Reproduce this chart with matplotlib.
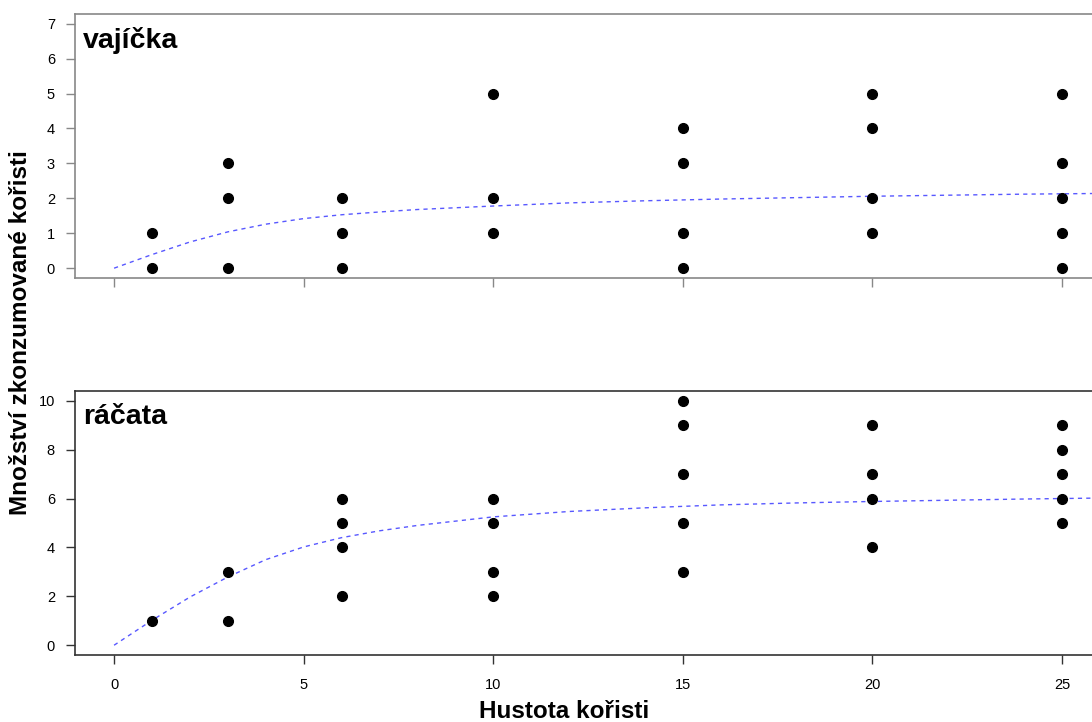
import matplotlib
matplotlib.use("Agg")
import matplotlib.pyplot as plt
import numpy as np

plt.rcParams["font.family"] = ["Liberation Sans", "DejaVu Sans"]

# vajíčka (eggs)
egg_x = [1, 1, 3, 3, 3, 6, 6, 6, 10, 10, 10, 15, 15, 15, 15, 20, 20, 20, 20, 25, 25, 25, 25, 25]
egg_y = [0, 1, 0, 2, 3, 0, 1, 2, 1, 2, 5, 0, 1, 3, 4, 1, 2, 4, 5, 0, 1, 2, 3, 5]

# ráčata (juveniles)
juv_x = [1, 3, 3, 6, 6, 6, 6, 10, 10, 10, 10, 15, 15, 15, 15, 15, 20, 20, 20, 20, 25, 25, 25, 25, 25]
juv_y = [1, 1, 3, 2, 4, 5, 6, 2, 3, 5, 6, 3, 5, 7, 9, 10, 4, 6, 7, 9, 5, 6, 7, 8, 9]

# fitted curves
curve_x = [0, 1, 2, 3, 4, 5, 6, 7, 8, 10, 12, 14, 16, 18, 20, 22, 24, 26]
egg_fit = [0, 0.39, 0.75, 1.04, 1.26, 1.42, 1.53, 1.61, 1.68, 1.78, 1.87, 1.93, 1.98, 2.02, 2.06, 2.09, 2.12, 2.14]
juv_fit = [0, 1.02, 1.97, 2.79, 3.50, 4.02, 4.40, 4.68, 4.90, 5.25, 5.47, 5.62, 5.74, 5.82, 5.88, 5.93, 5.98, 6.02]

xticks = [0, 5, 10, 15, 20, 25]

fig = plt.figure(figsize=(10.92, 7.22), dpi=100)
ax1 = fig.add_axes([0.0687, 0.615, 0.9386, 0.3657])
ax2 = fig.add_axes([0.0687, 0.0928, 0.9386, 0.3657])

panels = [
    (ax1, egg_x, egg_y, egg_fit, (-0.28, 7.28), range(0, 8), "vajíčka", "#888888"),
    (ax2, juv_x, juv_y, juv_fit, (-0.4, 10.4), range(0, 11, 2), "ráčata", "#333333"),
]

for ax, xs, ys, fit, ylim, yt, name, edge in panels:
    ax.plot(curve_x, fit, linestyle=(0, (3, 3)), color="#3b3bff", linewidth=1.0, alpha=0.85)
    ax.plot(xs, ys, "o", color="black", markersize=7, linestyle="none")
    ax.set_xlim(-1.03, 26.0)
    ax.set_ylim(*ylim)
    ax.set_yticks(list(yt))
    ax.set_xticks(xticks)
    for s in ax.spines.values():
        s.set_color(edge)
        s.set_linewidth(1.2)
    ax.tick_params(direction="out", length=6.5, width=1, color=edge, labelsize=10.5, pad=8)
    ax.text(0.008, 0.9, name, transform=ax.transAxes, fontsize=20.5,
            fontweight="bold", va="center", ha="left")

ax1.tick_params(axis="x", labelbottom=False)
ax2.tick_params(axis="x", pad=10)

fig.text(21 / 1092, 1 - 333 / 722, "Množství zkonzumované kořisti", rotation=90,
         fontsize=17.5, fontweight="bold", ha="center", va="center")
fig.text(564 / 1092, 1 - 712 / 722, "Hustota kořisti", fontsize=17.5,
         fontweight="bold", ha="center", va="center")

plt.savefig("out.png", dpi=100)
plt.close()
